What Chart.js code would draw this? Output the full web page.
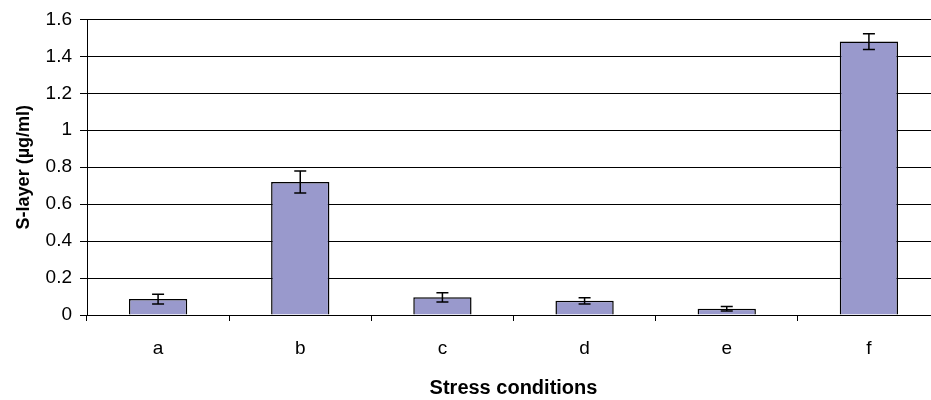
<!DOCTYPE html>
<html>
<head>
<meta charset="utf-8">
<script src="https://cdn.jsdelivr.net/npm/chart.js@4.4.0/dist/chart.umd.min.js"></script>
<style>
  html,body{margin:0;padding:0;background:#fff;overflow:hidden;}
  canvas{display:block;}
</style>
</head>
<body>
<canvas id="chart" width="945" height="400"></canvas>
<script>
// data
let labels = ["a","b","c","d","e","f"];
let values = [0.086, 0.72, 0.096, 0.077, 0.034, 1.48];
let errors = [0.026, 0.06, 0.025, 0.017, 0.012, 0.043];

let yMin = 0, yMax = 1.6, yStep = 0.2;

// draws the error bars from the same arrays
let errorBars = {
  id: "errorBars",
  afterDatasetsDraw(chart){
    let ctx = chart.ctx;
    let y = chart.scales.y;
    let meta = chart.getDatasetMeta(0);
    ctx.save();
    ctx.strokeStyle = "#000";
    ctx.lineWidth = 1.5;
    meta.data.forEach((bar, i) => {
      let x = bar.x;
      let top = y.getPixelForValue(values[i] + errors[i]);
      let bot = y.getPixelForValue(values[i] - errors[i]);
      ctx.beginPath();
      ctx.moveTo(x, top); ctx.lineTo(x, bot);
      ctx.moveTo(x-6, top); ctx.lineTo(x+6, top);
      ctx.moveTo(x-6, bot); ctx.lineTo(x+6, bot);
      ctx.stroke();
    });
    ctx.restore();
  }
};

Chart.defaults.font.family = "'Liberation Sans', Arial, sans-serif";
Chart.defaults.color = "#000";

let ctx = document.getElementById("chart").getContext("2d");
new Chart(ctx, {
  type: "bar",
  data: {
    labels: labels,
    datasets: [{
      data: values,
      backgroundColor: "#9999cc",
      borderColor: "#000",
      borderWidth: 1.5,
      barPercentage: 0.41,
      categoryPercentage: 1
    }]
  },
  options: {
    responsive: false,
    animation: false,
    layout: { padding: { top: 19, right: 5, bottom: 0, left: 0 } },
    plugins: { legend: { display: false }, tooltip: { enabled: false } },
    scales: {
      x: {
        grid: { drawOnChartArea: false, color: "#000", tickLength: 6, offset: true },
        border: { color: "#000", width: 1 },
        ticks: { font: { size: 19 }, padding: 16 },
        title: { display: true, text: "Stress conditions", font: { size: 20, weight: "bold" }, padding: { top: 0, bottom: 0 } },
        afterFit(scale){ scale.height = 85; }
      },
      y: {
        min: yMin, max: yMax,
        grid: { color: "#000", lineWidth: 1, tickLength: 7 },
        border: { color: "#000", width: 1 },
        ticks: {
          stepSize: yStep, font: { size: 19 }, padding: 8,
          callback: v => String(Number(v.toFixed(1)))
        },
        title: { display: true, text: "S-layer (µg/ml)", font: { size: 18, weight: "bold" }, padding: { top: 13, bottom: 0 } },
        afterFit(scale){ scale.width = 87; }
      }
    }
  },
  plugins: [errorBars]
});
</script>
</body>
</html>
